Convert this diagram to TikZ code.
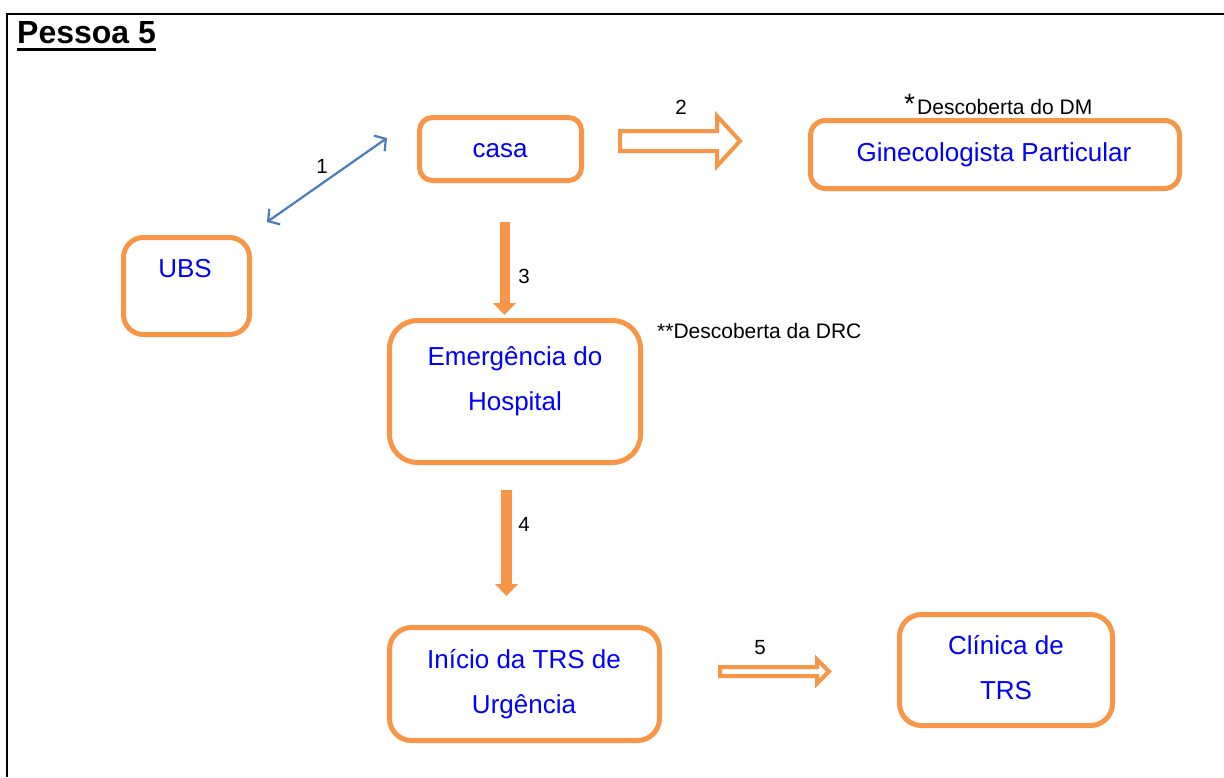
\documentclass[tikz,border=0pt]{standalone}
\usepackage{fontspec}
\setmainfont{Liberation Sans}
\usetikzlibrary{arrows.meta,calc}
\definecolor{boxorange}{HTML}{F79646}
\definecolor{linkblue}{HTML}{4A7EBB}
\definecolor{txtblue}{HTML}{0000FF}

\begin{document}
\begin{tikzpicture}[x=1pt,y=-1pt,
  stagebox/.style={draw=boxorange, line width=5pt, rounded corners=#1, inner sep=0pt},
  stagebox/.default=15pt,
  stagetext/.style={text=txtblue, font=\fontsize{26}{45}\selectfont, align=center, inner sep=0pt, anchor=base},
  steplabel/.style={font=\fontsize{20.5}{24}\selectfont, inner sep=0pt},
  note/.style={font=\fontsize{21}{24}\selectfont, inner sep=0pt, anchor=base west},
  hollowarrow/.style={draw=boxorange, fill=white, line width=4pt},
  solidarrow/.style={fill=boxorange},
  ]
\useasboundingbox (0,0) rectangle (1224,777);

% frame and title
\draw[line width=2pt] (7,777) -- (7,14) -- (1224,14);
\node[font=\fontsize{32}{36}\selectfont\bfseries, inner sep=0pt, anchor=base west] (title) at (17,43) {Pessoa 5};
\draw[line width=3pt] ([yshift=-6.5pt]title.base west) -- ([yshift=-6.5pt]title.base east);

% boxes
\node[stagebox=13pt, minimum width=162pt, minimum height=63pt] (casa) at (500.5,149) {};
\node[stagebox=15pt, minimum width=369pt, minimum height=68pt] (gine) at (995,154.5) {};
\node[stagebox=20pt, minimum width=126pt, minimum height=97pt] (ubs) at (186.5,286) {};
\node[stagebox=28pt, minimum width=251pt, minimum height=142pt] (emer) at (515,391.5) {};
\node[stagebox=22pt, minimum width=270pt, minimum height=113pt] (inicio) at (524.5,684) {};
\node[stagebox=22pt, minimum width=213pt, minimum height=111pt] (clinica) at (1006,670) {};

% box texts (base anchor sits on the last line)
\node[stagetext] (casa-t) at (500,157) {casa};
\node[stagetext] (gine-t) at (994,161) {Ginecologista Particular};
\node[stagetext] (ubs-t) at (185,277) {UBS};
\node[stagetext] (emer-t) at (515,410) {Emergência do\\Hospital};
\node[stagetext] (inicio-t) at (524,713) {Início da TRS de\\Urgência};
\node[stagetext] (clinica-t) at (1006,699) {Clínica de\\TRS};

% notes
\node[font=\fontsize{28}{30}\selectfont, inner sep=0pt, anchor=base west] (star1) at (904,113) {*};
\node[note] (note1) at (917,114) {Descoberta do DM};
\node[note] (note2) at (657,338) {**Descoberta da DRC};

% 1: UBS <-> casa
\coordinate (a1s) at (267,222);
\coordinate (a1e) at (387,138);
\draw[linkblue, line width=2.2pt, {Straight Barb[length=8pt,width=19pt]}-{Straight Barb[length=8pt,width=19pt]}] (a1s) -- (a1e);
\node[steplabel] (l1) at (322,166) {1};

% 2: casa => ginecologista
\coordinate (a2s) at (620,141);
\coordinate (a2e) at (740,141);
\draw[hollowarrow] ($(a2s)+(0,-10)$) -- ($(a2s)+(97,-10)$) -- ($(a2s)+(97,-25)$) -- (a2e)
  -- ($(a2s)+(97,25)$) -- ($(a2s)+(97,10)$) -- ($(a2s)+(0,10)$) -- cycle;
\node[steplabel] (l2) at (681,107) {2};

% 3: casa -> emergencia
\coordinate (a3s) at (504.5,222);
\coordinate (a3e) at (504.5,315);
\fill[solidarrow] ($(a3s)+(-5,0)$) rectangle ($(a3e)+(5,-12)$);
\fill[solidarrow] ($(a3e)+(-11.5,-12)$) -- ($(a3e)+(11.5,-12)$) -- (a3e) -- cycle;
\node[steplabel] (l3) at (524,276) {3};

% 4: emergencia -> inicio
\coordinate (a4s) at (506.5,490);
\coordinate (a4e) at (506.5,596);
\fill[solidarrow] ($(a4s)+(-5.5,0)$) rectangle ($(a4e)+(5.5,-12)$);
\fill[solidarrow] ($(a4e)+(-11.5,-12)$) -- ($(a4e)+(11.5,-12)$) -- (a4e) -- cycle;
\node[steplabel] (l4) at (524,524) {4};

% 5: inicio => clinica
\coordinate (a5s) at (720,671.5);
\coordinate (a5e) at (829,671.5);
\draw[hollowarrow] ($(a5s)+(0,-4.5)$) -- ($(a5s)+(97,-4.5)$) -- ($(a5s)+(97,-12)$) -- (a5e)
  -- ($(a5s)+(97,12)$) -- ($(a5s)+(97,4.5)$) -- ($(a5s)+(0,4.5)$) -- cycle;
\node[steplabel] (l5) at (760,648) {5};
\end{tikzpicture}
\end{document}
